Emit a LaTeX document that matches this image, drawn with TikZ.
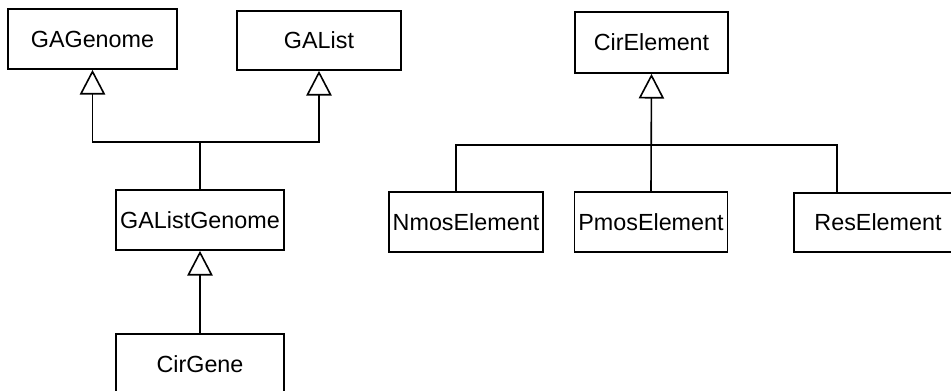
\documentclass[tikz,border=0pt]{standalone}
\usepackage{fontspec}
\setmainfont{Liberation Sans}
\usetikzlibrary{arrows.meta}
\begin{document}
\begin{tikzpicture}[x=0.75pt,y=-0.75pt,
  cls/.style={draw, line width=1.3pt, inner sep=0pt, align=center,
    font=\fontsize{17.5}{20}\selectfont},
  conn/.style={line width=1.2pt},
  inherit/.style={conn, -{Triangle[open, width=19pt, length=18.5pt, line width=1.2pt]}}]
\useasboundingbox (0,0) rectangle (951,391);
\clip (0,0) rectangle (951,391);

% class boxes
\node[cls, minimum width=169*0.75pt, minimum height=60*0.75pt] (gag) at (92.5,39) {GAGenome};
\node[cls, minimum width=164*0.75pt, minimum height=59*0.75pt] (gal) at (319,40.5) {GAList};
\node[cls, minimum width=168*0.75pt, minimum height=60*0.75pt] (glg) at (200,220) {GAListGenome};
\node[cls, minimum width=168*0.75pt, minimum height=60*0.75pt] (cg) at (200,364) {CirGene};
\node[cls, minimum width=153*0.75pt, minimum height=61*0.75pt] (ce) at (651.5,42.5) {CirElement};
\node[cls, minimum width=154*0.75pt, minimum height=60*0.75pt] (nm) at (466,222) {NmosElement};
\node[cls, minimum width=153*0.75pt, minimum height=60*0.75pt] (pm) at (651,222) {PmosElement};
\node[cls, minimum width=168*0.75pt, minimum height=59*0.75pt] (rs) at (878,222.5) {ResElement};

% junction points
\coordinate (j1) at (200,142);
\coordinate (busL) at (456,145);
\coordinate (busR) at (837,145);

% GAListGenome inherits from GAGenome and GAList
\draw[conn] (glg.north) -- (j1);
\draw[inherit] (j1) -| (gag.south);
\draw[inherit] (j1) -| (gal.south);

% CirGene inherits from GAListGenome
\draw[inherit] (cg.north) -- (glg.south);

% circuit elements inherit from CirElement
\draw[inherit] (pm.north) -- (ce.south);
\draw[conn] (nm.north -| busL) -- (busL) -- (busR) -- (rs.north -| busR);
\end{tikzpicture}
\end{document}
